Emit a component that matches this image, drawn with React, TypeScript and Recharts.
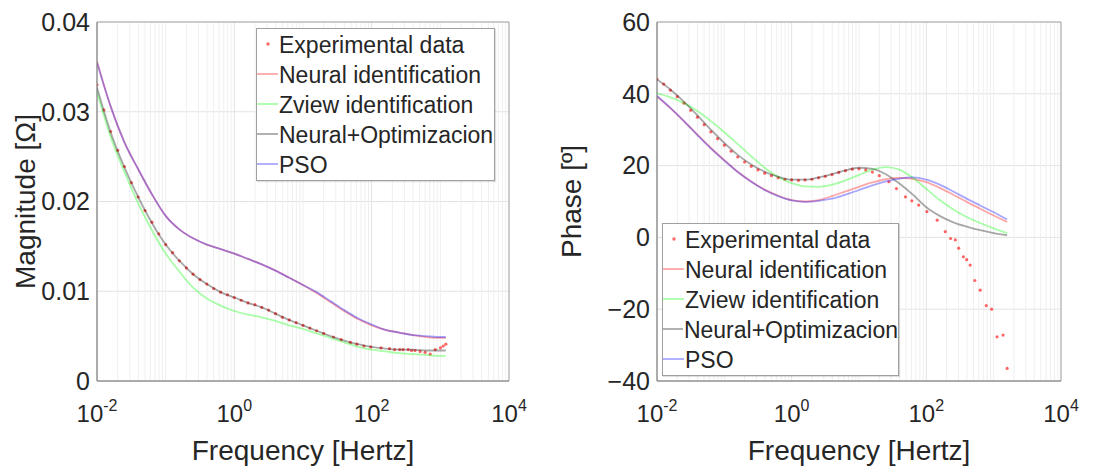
import {
  ComposedChart,
  Line,
  Scatter,
  XAxis,
  YAxis,
  CartesianGrid,
  Legend,
  ReferenceArea,
  ReferenceLine,
  Label,
} from "recharts";

// Frequency grids (Hz) of the fitted model curves, 5 points per decade
const magFreq = [
  0.01, 0.0158, 0.0251, 0.0398, 0.0631, 0.1, 0.158, 0.251, 0.398, 0.631,
  1, 1.58, 2.51, 3.98, 6.31, 10, 15.8, 25.1, 39.8, 63.1,
  100, 158, 251, 398, 631, 1000, 1202,
];
const phaseFreq = [
  0.01, 0.0158, 0.0251, 0.0398, 0.0631, 0.1, 0.158, 0.251, 0.398, 0.631,
  1, 1.58, 2.51, 3.98, 6.31, 10, 15.8, 25.1, 39.8, 63.1,
  100, 158, 251, 398, 631, 1000, 1585,
];

// |Z| of each model (Ω)
const magNeural = [0.0356, 0.0306, 0.0266, 0.0236, 0.0208, 0.0184, 0.0169, 0.0159, 0.0152, 0.0147, 0.0142, 0.0136, 0.013, 0.0123, 0.0115, 0.0107, 0.0098, 0.0088, 0.0078, 0.0069, 0.0062, 0.0057, 0.0054, 0.0051, 0.0049, 0.0048, 0.0048];
const magZview = [0.0322, 0.0272, 0.0233, 0.0198, 0.0168, 0.0142, 0.0122, 0.0104, 0.0092, 0.0084, 0.0078, 0.0074, 0.0071, 0.0067, 0.0062, 0.0058, 0.0053, 0.0048, 0.0043, 0.0038, 0.0035, 0.0033, 0.0031, 0.003, 0.0029, 0.0028, 0.0028];
const magNeuralOpt = [0.0327, 0.0277, 0.0238, 0.0205, 0.0176, 0.0152, 0.0134, 0.0119, 0.0108, 0.0099, 0.0093, 0.0087, 0.0082, 0.0075, 0.0068, 0.0062, 0.0056, 0.005, 0.0045, 0.0041, 0.0038, 0.0036, 0.0035, 0.0035, 0.0034, 0.0034, 0.0034];
const magPso = [0.0355, 0.0306, 0.0266, 0.0236, 0.0208, 0.0184, 0.0169, 0.0159, 0.0152, 0.0147, 0.0142, 0.0136, 0.013, 0.0123, 0.0115, 0.0107, 0.0099, 0.0089, 0.0079, 0.007, 0.0063, 0.0057, 0.0054, 0.0051, 0.005, 0.0049, 0.0049];

// phase of each model (degrees)
const phaseNeural = [39.3, 36.0, 32.4, 28.6, 24.9, 21.5, 18.3, 15.6, 13.3, 11.6, 10.4, 10.0, 10.4, 11.5, 12.8, 14.1, 15.3, 16.2, 16.6, 16.3, 15.4, 13.8, 11.9, 9.9, 8.0, 6.1, 4.3];
const phaseZview = [40.1, 39.0, 37.4, 35.2, 32.4, 29.3, 26.0, 22.6, 19.4, 16.8, 15.1, 14.2, 14.1, 14.7, 15.9, 17.4, 18.9, 19.6, 18.9, 16.6, 13.5, 10.4, 7.8, 5.7, 4.0, 2.5, 1.2];
const phaseNeuralOpt = [44.0, 41.2, 37.8, 34.0, 30.0, 26.3, 23.0, 20.3, 18.3, 16.9, 16.1, 16.1, 16.7, 17.6, 18.7, 19.4, 19.1, 17.6, 15.0, 11.9, 8.4, 6.0, 4.2, 3.0, 2.0, 1.2, 0.6];
const phasePso = [39.4, 36.1, 32.4, 28.5, 24.8, 21.4, 18.2, 15.5, 13.2, 11.5, 10.3, 9.9, 10.2, 10.8, 11.9, 13.2, 14.5, 15.6, 16.4, 16.7, 16.1, 14.7, 12.8, 10.8, 8.9, 7.0, 5.0];

// Measured impedance spectrum: magnitude sweep
const expMagFreq = [
  0.01, 0.0126, 0.0158, 0.02, 0.0251, 0.0316, 0.0398, 0.0501, 0.0631, 0.0794,
  0.1, 0.126, 0.158, 0.2, 0.251, 0.316, 0.398, 0.501, 0.631, 0.794,
  1, 1.26, 1.58, 2, 2.51, 3.16, 3.98, 5.01, 6.31, 7.94,
  10, 12.6, 15.8, 20, 27.8, 36, 49, 61, 77, 97,
  137, 182, 216, 256, 287, 340, 381, 428, 507, 601,
  713, 845, 1004, 1100, 1202,
];
const expMag = [
  0.033, 0.0302, 0.0278, 0.0257, 0.0239, 0.0221, 0.0205, 0.019, 0.0177, 0.0164,
  0.0152, 0.0143, 0.0134, 0.0126, 0.0119, 0.0113, 0.0108, 0.0103, 0.0099, 0.0096,
  0.0093, 0.009, 0.0087, 0.0085, 0.0082, 0.0079, 0.0075, 0.0071, 0.0068, 0.0065,
  0.0062, 0.0059, 0.0056, 0.0053, 0.0049, 0.0046, 0.0043, 0.0041, 0.0039, 0.0038,
  0.0037, 0.0036, 0.0035, 0.0035, 0.0035, 0.0035, 0.0034, 0.0034, 0.0033, 0.0032,
  0.003, 0.0035, 0.0037, 0.0039, 0.0041,
];

// Measured impedance spectrum: phase sweep
const expPhaseFreq = [
  0.01, 0.0126, 0.0158, 0.02, 0.0251, 0.0316, 0.0398, 0.0501, 0.0631, 0.0794,
  0.1, 0.126, 0.158, 0.2, 0.251, 0.316, 0.398, 0.501, 0.631, 0.794,
  1, 1.26, 1.58, 2, 2.51, 3.16, 3.98, 5.01, 6.31, 7.94,
  10, 12.6, 15.8, 20, 27.8, 36, 49, 61, 77, 102,
  145, 191, 229, 269, 302, 355, 398, 447, 525, 631,
  776, 933, 1122, 1380, 1585,
];
const expPhase = [
  44.1, 42.7, 41.0, 39.2, 37.4, 35.4, 33.5, 31.4, 29.4, 27.5,
  25.7, 24.0, 22.4, 21.0, 19.8, 18.8, 17.9, 17.2, 16.6, 16.2,
  16.0, 15.9, 16.0, 16.2, 16.6, 17.0, 17.5, 18.1, 18.6, 19.0,
  19.1, 18.8, 18.2, 17.2, 15.5, 13.6, 11.3, 10.2, 9.0, 7.2,
  4.8, 1.6, -0.3, -0.7, -3.0, -5.4, -6.2, -7.7, -12.0, -14.7,
  -19.0, -20.0, -27.7, -27.2, -36.5,
];

const magTicks = [0, 0.01, 0.02, 0.03, 0.04];
const phaseTicks = [-40, -20, 0, 20, 40, 60];
const decadeTicks = [0.01, 1, 100, 10000];
const FREQ_DOMAIN: [number, number] = [0.01, 10000];

// minor log grid: 1..9 x 10^k, skipping the labelled decades
const minorGrid = [-2, -1, 0, 1, 2, 3]
  .flatMap((k) => [1, 2, 3, 4, 5, 6, 7, 8, 9].map((m) => m * Math.pow(10, k)))
  .filter((v) => !decadeTicks.some((d) => Math.abs(d - v) < 1e-9));

const SERIES = [
  { name: "Neural identification", color: "#ff0000" },
  { name: "Zview identification", color: "#00ff00" },
  { name: "Neural+Optimizacion", color: "#000000" },
  { name: "PSO", color: "#0000ff" },
];
const EXP_NAME = "Experimental data";
const EXP_COLOR = "#ff0000";
const LINE_ALPHA = 0.34;
const LINE_WIDTH = 1.8;

type Pt = { f: number; v: number };
const toPoints = (freq: number[], vals: number[]): Pt[] => freq.map((f, i) => ({ f, v: vals[i] }));

const TEXT = "#262626";

function DecadeTick({ x, y, payload }: any) {
  const exp = Math.round(Math.log10(payload.value));
  return (
    <text x={x} y={y + 41} textAnchor="middle" fontSize={24} fill={TEXT}>
      10
      <tspan dy={-11} fontSize={16}>
        {exp}
      </tspan>
    </text>
  );
}

function BodeLegend({ width }: { width: number }) {
  return (
    <div
      style={{
        width,
        boxSizing: "border-box",
        background: "#fff",
        border: "1px solid #a0a0a0",
        boxShadow: "1px 1px 1px rgba(0,0,0,0.12)",
        fontSize: 23,
        lineHeight: "30px",
        color: TEXT,
        paddingTop: 1,
      }}
    >
      <div style={{ display: "flex", height: 30 }}>
        <svg width={21} height={30} style={{ display: "block" }}>
          <circle cx={11} cy={14} r={1.7} fill={EXP_COLOR} fillOpacity={0.6} />
        </svg>
        <span style={{ marginLeft: 1, whiteSpace: "nowrap" }}>{EXP_NAME}</span>
      </div>
      {SERIES.map((s) => (
        <div key={s.name} style={{ display: "flex", height: 30 }}>
          <svg width={21} height={30} style={{ display: "block" }}>
            <line x1={0} x2={21} y1={14} y2={14} stroke={s.color} strokeOpacity={LINE_ALPHA} strokeWidth={LINE_WIDTH} />
          </svg>
          <span style={{ marginLeft: 1, whiteSpace: "nowrap" }}>{s.name}</span>
        </div>
      ))}
    </div>
  );
}

type PanelProps = {
  yLabel: string;
  yDomain: [number, number];
  yTicks: number[];
  tickFormat: (v: number) => string;
  exp: Pt[];
  curves: Pt[][];
  margin: { top: number; right: number; bottom: number; left: number };
  yAxisWidth: number;
  labelOffset: number;
  legend: { left: number; top: number; width: number };
};

function BodePanel(p: PanelProps) {
  return (
    <ComposedChart width={554} height={466} margin={p.margin}>
      <CartesianGrid stroke="#e2e2e2" />
      {minorGrid.map((v) => (
        <ReferenceLine key={v} x={v} stroke="#efefef" zIndex={-50} />
      ))}
      <XAxis
        dataKey="f"
        type="number"
        scale="log"
        domain={FREQ_DOMAIN}
        allowDataOverflow
        ticks={decadeTicks}
        interval={0}
        tick={(t: any) => <DecadeTick {...t} />}
        tickLine={false}
        tickSize={0}
        tickMargin={0}
        height={60}
        axisLine={{ stroke: "#8c8c8c" }}
      >
        <Label value="Frequency [Hertz]" position="bottom" offset={-1} fontSize={28} fill={TEXT} />
      </XAxis>
      <YAxis
        dataKey="v"
        type="number"
        domain={p.yDomain}
        allowDataOverflow
        ticks={p.yTicks}
        interval={0}
        tickFormatter={p.tickFormat}
        width={p.yAxisWidth}
        tickLine={false}
        tickSize={0}
        tickMargin={7}
        tick={{ fontSize: 25, fill: TEXT }}
        axisLine={{ stroke: "#8c8c8c" }}
      >
        <Label
          value={p.yLabel}
          angle={-90}
          position="insideLeft"
          offset={p.labelOffset}
          fontSize={28}
          fill={TEXT}
          style={{ textAnchor: "middle" }}
        />
      </YAxis>
      <ReferenceArea
        x1={FREQ_DOMAIN[0]}
        x2={FREQ_DOMAIN[1]}
        y1={p.yDomain[0]}
        y2={p.yDomain[1]}
        fill="none"
        stroke="#a6a6a6"
      />
      <Scatter
        name={EXP_NAME}
        data={p.exp}
        dataKey="v"
        zIndex={350}
        isAnimationActive={false}
        shape={(s: any) => <circle cx={s.cx} cy={s.cy} r={1.6} fill={EXP_COLOR} fillOpacity={0.6} />}
      />
      {p.curves.map((pts, i) => (
        <Line
          key={SERIES[i].name}
          name={SERIES[i].name}
          data={pts}
          dataKey="v"
          type="monotone"
          stroke={SERIES[i].color}
          strokeOpacity={LINE_ALPHA}
          strokeWidth={LINE_WIDTH}
          dot={false}
          activeDot={false}
          isAnimationActive={false}
        />
      ))}
      <Legend
        layout="horizontal"
        verticalAlign="middle"
        align="center"
        wrapperStyle={{ left: p.legend.left, top: p.legend.top, width: p.legend.width }}
        content={() => <BodeLegend width={p.legend.width} />}
      />
    </ComposedChart>
  );
}

export default function App() {
  const magCurves = [magNeural, magZview, magNeuralOpt, magPso].map((vals) => toPoints(magFreq, vals));
  const phaseCurves = [phaseNeural, phaseZview, phaseNeuralOpt, phasePso].map((vals) => toPoints(phaseFreq, vals));

  return (
    <div
      style={{
        position: "absolute",
        left: 0,
        top: 0,
        width: 1108,
        height: 466,
        background: "#fff",
        fontFamily: '"Liberation Sans", Arial, Helvetica, sans-serif',
      }}
    >
      <div style={{ position: "absolute", left: 0, top: 0 }}>
        <BodePanel
          yLabel="Magnitude [Ω]"
          yDomain={[0, 0.04]}
          yTicks={magTicks}
          tickFormat={(v) => (v === 0 ? "0" : v.toFixed(2))}
          exp={toPoints(expMagFreq, expMag)}
          curves={magCurves}
          margin={{ top: 22, right: 45, bottom: 25, left: 17 }}
          yAxisWidth={80}
          labelOffset={8}
          legend={{ left: 256, top: 28, width: 239 }}
        />
      </div>
      <div style={{ position: "absolute", left: 554, top: 0 }}>
        <BodePanel
          yLabel="Phase [º]"
          yDomain={[-40, 60]}
          yTicks={phaseTicks}
          tickFormat={(v) => (v < 0 ? `\u2212${-v}` : `${v}`)}
          exp={toPoints(expPhaseFreq, expPhase)}
          curves={phaseCurves}
          margin={{ top: 22, right: 47, bottom: 25, left: 13 }}
          yAxisWidth={90}
          labelOffset={4}
          legend={{ left: 108, top: 223, width: 237 }}
        />
      </div>
    </div>
  );
}
